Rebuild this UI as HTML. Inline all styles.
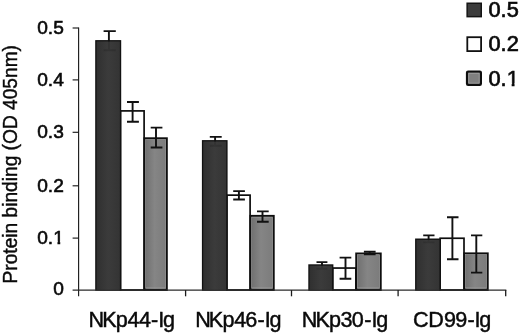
<!DOCTYPE html><html><head><meta charset="utf-8"><title>chart</title><style>html,body{margin:0;padding:0;background:#fff}svg{display:block}text{font-family:"Liberation Sans",Arial,Helvetica,sans-serif;fill:#0a0a0a;stroke:#0a0a0a;stroke-width:0.6px}</style></head><body>
<svg width="520" height="334" viewBox="0 0 520 334">
<rect width="520" height="334" fill="#fff"/>
<defs><linearGradient id="gg" x1="0" y1="0" x2="1" y2="0"><stop offset="0" stop-color="#6e6e6e"/><stop offset="0.45" stop-color="#858585"/><stop offset="1" stop-color="#7b7b7b"/></linearGradient><linearGradient id="dg" x1="0" y1="0" x2="1" y2="0"><stop offset="0" stop-color="#303030"/><stop offset="0.5" stop-color="#3b3b3b"/><stop offset="1" stop-color="#343434"/></linearGradient></defs>
<rect x="120.55" y="110.90" width="23.55" height="179.10" fill="#ffffff" stroke="#0e0e0e" stroke-width="1.7"/>
<rect x="226.95" y="195.15" width="23.15" height="94.85" fill="#ffffff" stroke="#0e0e0e" stroke-width="1.7"/>
<rect x="332.75" y="268.05" width="23.15" height="21.95" fill="#ffffff" stroke="#0e0e0e" stroke-width="1.7"/>
<rect x="440.15" y="238.25" width="23.85" height="51.75" fill="#ffffff" stroke="#0e0e0e" stroke-width="1.7"/>
<rect x="144.40" y="138.25" width="22.45" height="151.75" fill="url(#gg)" stroke="#0e0e0e" stroke-width="1.9"/>
<rect x="145.70" y="139.55" width="19.85" height="148.30" fill="none" stroke="#9c9c9c" stroke-width="0.6"/>
<rect x="250.40" y="215.85" width="23.35" height="74.15" fill="url(#gg)" stroke="#0e0e0e" stroke-width="1.9"/>
<rect x="251.70" y="217.15" width="20.75" height="70.70" fill="none" stroke="#9c9c9c" stroke-width="0.6"/>
<rect x="356.20" y="253.45" width="24.55" height="36.55" fill="url(#gg)" stroke="#0e0e0e" stroke-width="1.9"/>
<rect x="357.50" y="254.75" width="21.95" height="33.10" fill="none" stroke="#9c9c9c" stroke-width="0.6"/>
<rect x="464.30" y="253.35" width="23.45" height="36.65" fill="url(#gg)" stroke="#0e0e0e" stroke-width="1.9"/>
<rect x="465.60" y="254.65" width="20.85" height="33.20" fill="none" stroke="#9c9c9c" stroke-width="0.6"/>
<rect x="95.95" y="40.85" width="24.50" height="249.15" fill="url(#dg)" stroke="#121212" stroke-width="1.5"/>
<rect x="202.65" y="140.85" width="24.20" height="149.15" fill="url(#dg)" stroke="#121212" stroke-width="1.5"/>
<rect x="309.05" y="265.05" width="23.60" height="24.95" fill="url(#dg)" stroke="#121212" stroke-width="1.5"/>
<rect x="415.85" y="239.25" width="24.20" height="50.75" fill="url(#dg)" stroke="#121212" stroke-width="1.5"/>
<g stroke="#1c1c1c" stroke-width="1.15" fill="none">
<path d="M78.6,27.4 V296.3"/>
<path d="M72.6,290.1 H506.3" stroke="#2a2a2a"/>
<path d="M72.6,28.0 H78.6"/>
<path d="M72.6,79.9 H78.6"/>
<path d="M72.6,132.3 H78.6"/>
<path d="M72.6,185.8 H78.6"/>
<path d="M72.6,238.1 H78.6"/>
<path d="M185.6,290.1 V296.3" stroke-width="1.3"/>
<path d="M291.5,290.1 V296.3" stroke-width="1.3"/>
<path d="M398.1,290.1 V296.3" stroke-width="1.3"/>
<path d="M505.7,290.1 V296.3" stroke-width="1.3"/>
</g>
<g stroke="#111" stroke-width="1.9" fill="none">
<path d="M108.9,31.1 V50.2 M103.6,31.1 H115.8 M103.6,50.2 H115.8"/>
<path d="M132.6,102.0 V121.7 M127.0,102.0 H138.9 M127.0,121.7 H138.9"/>
<path d="M156.0,127.6 V147.5 M150.7,127.6 H162.4 M150.7,147.5 H162.4"/>
<path d="M215.1,136.9 V145.8 M209.8,136.9 H221.7 M209.8,145.8 H221.7"/>
<path d="M238.9,191.1 V199.5 M233.2,191.1 H244.9 M233.2,199.5 H244.9"/>
<path d="M262.5,211.4 V221.7 M257.0,211.4 H268.7 M257.0,221.7 H268.7"/>
<path d="M322.0,262.1 V268.7 M316.5,262.1 H327.4 M316.5,268.7 H327.4"/>
<path d="M345.5,257.6 V278.7 M339.6,257.6 H351.3 M339.6,278.7 H351.3"/>
<path d="M369.7,251.8 V254.2 M363.9,251.8 H375.6 M363.9,254.2 H375.6"/>
<path d="M428.6,235.4 V242.4 M423.2,235.4 H434.5 M423.2,242.4 H434.5"/>
<path d="M452.4,217.2 V259.2 M447.0,217.2 H458.5 M447.0,259.2 H458.5"/>
<path d="M476.3,235.4 V272.6 M471.0,235.4 H482.3 M471.0,272.6 H482.3"/>
</g>
<rect x="96.70" y="41.60" width="23.00" height="248.50" fill="url(#dg)" fill-opacity="0.8"/>
<rect x="203.40" y="141.60" width="22.70" height="148.50" fill="url(#dg)" fill-opacity="0.8"/>
<rect x="309.80" y="265.80" width="22.10" height="24.30" fill="url(#dg)" fill-opacity="0.8"/>
<rect x="416.60" y="240.00" width="22.70" height="50.10" fill="url(#dg)" fill-opacity="0.8"/>
<text transform="translate(63.8,33.7) scale(1.012,1)" text-anchor="end" font-size="18.9">0.5</text>
<text transform="translate(63.8,85.6) scale(1.012,1)" text-anchor="end" font-size="18.9">0.4</text>
<text transform="translate(63.8,138.0) scale(1.012,1)" text-anchor="end" font-size="18.9">0.3</text>
<text transform="translate(63.8,191.5) scale(1.012,1)" text-anchor="end" font-size="18.9">0.2</text>
<text transform="translate(63.8,243.8) scale(1.012,1)" text-anchor="end" font-size="18.9">0.1</text>
<text transform="translate(63.8,295.0) scale(1.012,1)" text-anchor="end" font-size="18.9">0</text>
<text x="88.46 102.16 115.77 127.61 138.89 151.08 158.29 163.06" y="327.4" style="stroke-width:0.45px" font-size="21.6">NKp44-Ig</text>
<text x="195.26 208.87 222.41 234.18 245.14 257.51 264.67 269.42" y="327.4" style="stroke-width:0.45px" font-size="21.6">NKp46-Ig</text>
<text x="301.76 315.42 329.00 340.52 351.77 364.23 371.43 376.19" y="327.4" style="stroke-width:0.45px" font-size="21.6">NKp30-Ig</text>
<text x="413.08 428.25 444.04 455.15 467.41 474.50 479.21" y="327.4" style="stroke-width:0.45px" font-size="21.6">CD99-Ig</text>
<text transform="translate(16.8,283.5) rotate(-90) scale(1,1.04)" style="stroke-width:0.4px" font-size="18.8" textLength="238.5" lengthAdjust="spacingAndGlyphs">Protein binding (OD 405nm)</text>
<rect x="467.15" y="3.25" width="14.10" height="13.40" fill="#3c3c3c" stroke="#141414" stroke-width="1.5"/>
<text transform="translate(488.5,17.0) scale(0.99,1)" style="stroke-width:0.68px" font-size="22">0.5</text>
<rect x="467.30" y="37.20" width="13.80" height="13.90" fill="#fff" stroke="#111" stroke-width="1.8"/>
<text transform="translate(488.5,51.3) scale(0.99,1)" style="stroke-width:0.68px" font-size="22">0.2</text>
<rect x="467.10" y="71.60" width="13.70" height="13.20" fill="#808080" stroke="#0e0e0e" stroke-width="2.4" rx="1"/>
<rect x="468.70" y="73.20" width="10.50" height="10.00" fill="none" stroke="#a8a8a8" stroke-width="0.8"/>
<text transform="translate(488.5,85.7) scale(0.99,1)" style="stroke-width:0.68px" font-size="22">0.1</text>
<g fill="#fff"><rect x="53" y="241.3" width="4.45" height="4"/><rect x="60.25" y="241.3" width="4.5" height="4"/><rect x="507.3" y="83.3" width="4.35" height="4"/><rect x="514.55" y="83.3" width="4.8" height="4"/></g>
</svg></body></html>
